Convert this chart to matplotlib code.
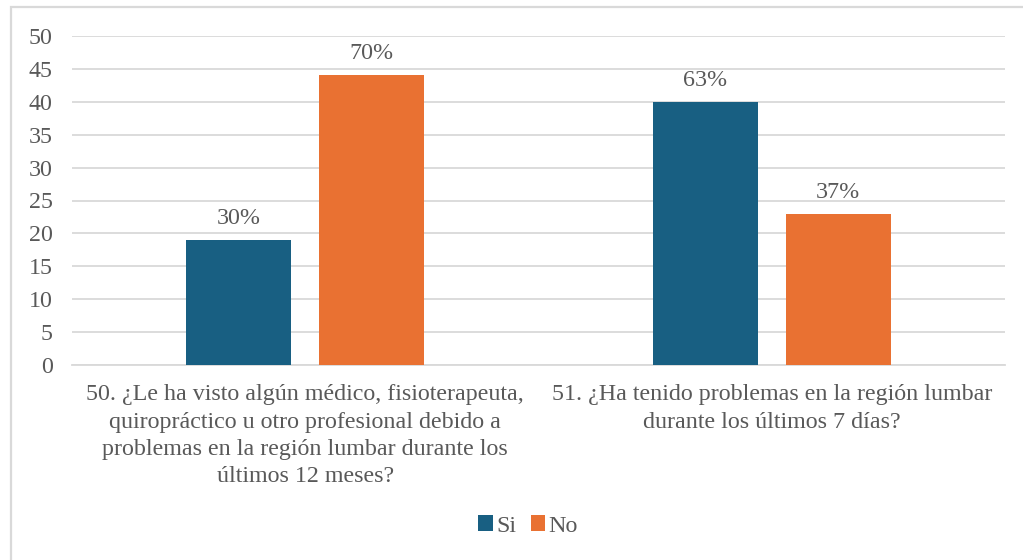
import matplotlib
matplotlib.use("Agg")
import matplotlib.pyplot as plt
from matplotlib.patches import Rectangle
import numpy as np

categories = [
    "50. ¿Le ha visto algún médico, fisioterapeuta,\nquiropráctico u otro profesional debido a\nproblemas en la región lumbar durante los\núltimos 12 meses?",
    "51. ¿Ha tenido problemas en la región lumbar\ndurante los últimos 7 días?",
]
series_names = ["Si", "No"]
si_values = [19, 40]
no_values = [44, 23]
si_labels = ["30%", "63%"]
no_labels = ["70%", "37%"]
y_ticks = [0, 5, 10, 15, 20, 25, 30, 35, 40, 45, 50]

blue = "#185F82"
orange = "#E97132"
text_gray = "#595959"
grid_gray = "#D9D9D9"
fs = 17.3

plt.rcParams["font.family"] = ["Liberation Serif", "DejaVu Serif"]

fig = plt.figure(figsize=(10.23, 5.6), dpi=100)
W, H = 1023, 560

# chart frame (light border, cropped at right and bottom)
frame = Rectangle((11 / W, -0.2), 1.2, 1.2 - 7 / H, transform=fig.transFigure,
                  fill=False, edgecolor=grid_gray, linewidth=1.6)
fig.patches.append(frame)

left, right = 72 / W, 1005 / W
top, bottom = 1 - 36 / H, 1 - 365 / H
ax = fig.add_axes([left, bottom, right - left, top - bottom])

x = np.arange(len(categories))
width = 0.225
offset = 0.1425

bars_si = ax.bar(x - offset, si_values, width, color=blue, label=series_names[0], zorder=3)
bars_no = ax.bar(x + offset, no_values, width, color=orange, label=series_names[1], zorder=3)

for bars, labels in ((bars_si, si_labels), (bars_no, no_labels)):
    for b, lab in zip(bars, labels):
        ax.annotate(lab, (b.get_x() + b.get_width() / 2, b.get_height()),
                    xytext=(0, 8), textcoords="offset points",
                    ha="center", va="bottom", fontsize=fs, color=text_gray)

ax.set_xlim(-0.5, 1.5)
ax.set_ylim(0, 50)
ax.set_yticks(y_ticks)
ax.set_xticks(x)
ax.set_xticklabels(categories, fontsize=fs, color=text_gray, linespacing=1.38)
ax.tick_params(axis="y", labelsize=fs, labelcolor=text_gray, length=0, pad=14)
ax.tick_params(axis="x", length=0, pad=14)

ax.grid(axis="y", color=grid_gray, linewidth=1.3, zorder=0)
for s in ("left", "right", "top"):
    ax.spines[s].set_visible(False)
ax.spines["bottom"].set_color(grid_gray)
ax.spines["bottom"].set_linewidth(1.3)

leg = fig.legend(loc="center", bbox_to_anchor=(528 / W, 1 - 526 / H), ncol=2, frameon=False,
                 fontsize=fs, handlelength=0.6, handleheight=0.6, handletextpad=0.15,
                 columnspacing=0.6)
for t in leg.get_texts():
    t.set_color(text_gray)

fig.savefig("out.png", dpi=100, facecolor="white")
